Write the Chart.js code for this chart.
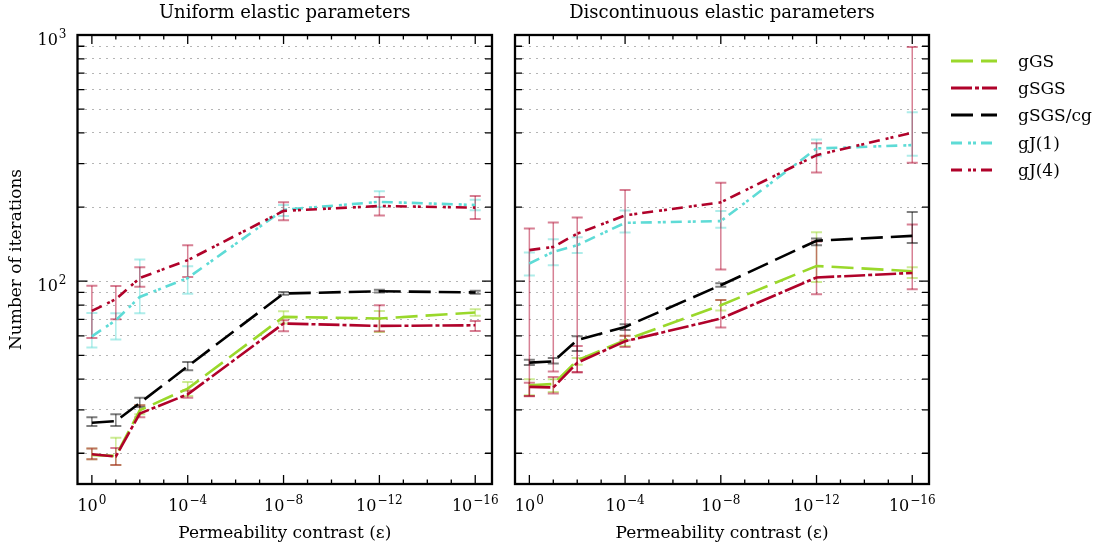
<!DOCTYPE html>
<html lang="en">
<head>
<meta charset="UTF-8" />
<title>Iterations vs permeability contrast</title>
<style>
    * {
        margin: 0;
        padding: 0;
    }

    body {
        width: 1096px;
        height: 550px;
        background: #fff;
        position: relative;
        overflow: hidden;
        font-family: "DejaVu Serif", serif;
    }

    .panel {
        position: absolute;
        top: 0;
    }

    #legend {
        position: absolute;
        left: 951px;
        top: 47px;
    }

    #legend .row {
        height: 27.3px;
        display: flex;
        align-items: center;
        font-size: 17px;
        color: #000;
    }

    #legend svg {
        width: 46px;
        height: 10px;
        margin-right: 21px;
    }
</style>
</head>

<body>
    <canvas id="leftChart" class="panel" style="left:0px" width="505" height="550"></canvas>
    <canvas id="rightChart" class="panel" style="left:505px" width="455" height="550"></canvas>
    <div id="legend"></div>

    <script src="https://cdn.jsdelivr.net/npm/chart.js@4.4.1/dist/chart.umd.min.js"></script>
    <script>
        // exponent k of epsilon = 10^-k
        const epsExp = [0, 1, 2, 4, 8, 12, 16];
        const xTickVals = [0, 1, 2, 3, 4, 5, 6, 7, 8, 9, 10, 11, 12, 13, 14, 15, 16];
        const xLabelVals = [0, 4, 8, 12, 16];
        const yTickVals = [20, 30, 40, 50, 60, 70, 80, 90, 100, 200, 300, 400, 500, 600, 700, 800, 900, 1000];
        const yLabelVals = [100, 1000];

        const seriesNames = ["gGS", "gSGS", "gSGS/cg", "gJ(1)", "gJ(4)"];

        // Uniform elastic parameters
        const uniGS = [19.7, 19.5, 29.9, 36.6, 71.6, 70.5, 74.6];
        const uniGSlo = [18.9, 17.9, 28.8, 34.2, 67.3, 62.2, 72.4];
        const uniGShi = [20.9, 23.1, 31.3, 38.9, 75.5, 75.7, 76.9];
        const uniSGS = [19.8, 19.4, 29.0, 34.7, 67.3, 65.8, 66.2];
        const uniSGSlo = [18.9, 17.9, 28.0, 33.6, 62.6, 62.6, 62.8];
        const uniSGShi = [20.9, 21.0, 31.3, 36.0, 69.4, 79.9, 68.9];
        const uniCG = [26.6, 27.0, 32.0, 45.1, 89.1, 91.0, 90.0];
        const uniCGlo = [25.8, 25.8, 30.8, 43.5, 88.0, 90.0, 89.0];
        const uniCGhi = [28.0, 28.8, 33.6, 47.0, 90.3, 92.2, 91.5];
        const uniJ1 = [59.7, 69.4, 86.3, 103, 195, 210, 204];
        const uniJ1lo = [53.8, 57.9, 74, 89, 184, 200, 194];
        const uniJ1hi = [74.3, 74.0, 122.5, 115, 204, 232, 214];
        const uniJ4 = [75.7, 84.5, 103, 121.7, 193, 202, 199];
        const uniJ4lo = [58.8, 70, 95, 104, 177, 185, 179];
        const uniJ4hi = [95.7, 95.6, 114, 140, 209, 220, 221.6];

        // Discontinuous elastic parameters
        const disGS = [37.8, 38.2, 47.7, 57.6, 79.9, 115.3, 109.8];
        const disGSlo = [34.4, 35.5, 45.8, 54.5, 76, 99.3, 103];
        const disGShi = [40, 40, 48.7, 60, 83.8, 158, 114];
        const disSGS = [37.2, 37.0, 46.6, 57, 70.5, 103.5, 108];
        const disSGSlo = [34.2, 35, 42.7, 54, 64.8, 88.5, 92.8];
        const disSGShi = [38.7, 40.8, 54.5, 60, 83.8, 145, 170];
        const disCG = [46.7, 47.2, 57.6, 65.2, 96.3, 146, 152.8];
        const disCGlo = [45.7, 46.3, 52.1, 63.3, 95, 140, 143];
        const disCGhi = [48, 48.7, 59.7, 66.8, 98, 149, 190.8];
        const disJ1 = [118, 131.6, 140, 172.6, 175.4, 346, 357];
        const disJ1lo = [105.5, 116, 130, 157.8, 165, 322, 323];
        const disJ1hi = [130.8, 148, 150.7, 193.6, 192.6, 376.6, 485];
        const disJ4 = [133.7, 137.8, 156, 185, 209, 325, 401];
        const disJ4lo = [34.1, 43, 42.7, 57.6, 111.6, 276.6, 303];
        const disJ4hi = [163.7, 173, 181.6, 234.5, 251, 363, 894];

        const colors = ["#9ad82b", "#b0022a", "#000000", "#5edbd6", "#b0022a"];
        const barColors = ["rgba(154,216,43,0.5)", "rgba(176,2,42,0.5)", "rgba(0,0,0,0.5)", "rgba(94,219,214,0.5)", "rgba(176,2,42,0.5)"];
        const dashes = [[22, 8], [21, 3, 4, 3], [22, 8], [11, 6, 3, 2, 3, 5], [11, 6, 3, 2, 3, 5]];

        const fontFam = '"DejaVu Serif", serif';

        // "10" with a raised exponent
        function drawPow(ctx, exp, x, baseY, align) {
            const base = "10";
            const ex = exp < 0 ? "\u2212" + (-exp) : String(exp);
            ctx.font = "16px " + fontFam;
            const w1 = ctx.measureText(base).width;
            ctx.font = "12px " + fontFam;
            const w2 = ctx.measureText(ex).width;
            const total = w1 + 1 + w2;
            let x0 = align === "right" ? x - total : x - total / 2;
            ctx.textAlign = "left";
            ctx.textBaseline = "alphabetic";
            ctx.font = "16px " + fontFam;
            ctx.fillText(base, x0, baseY);
            ctx.font = "12px " + fontFam;
            ctx.fillText(ex, x0 + w1 + 1, baseY - 7);
        }

        // error bars, drawn under the lines
        const errorBars = {
            id: "errorBars",
            beforeDatasetsDraw(chart) {
                const ctx = chart.ctx;
                const xs = chart.scales.x, ys = chart.scales.y;
                ctx.save();
                chart.data.datasets.forEach((ds, i) => {
                    ctx.strokeStyle = barColors[i];
                    for (let j = 0; j < epsExp.length; j++) {
                        const px = xs.getPixelForValue(epsExp[j]);
                        const y1 = ys.getPixelForValue(ds.errLo[j]);
                        const y2 = ys.getPixelForValue(ds.errHi[j]);
                        ctx.lineWidth = 1.5;
                        ctx.beginPath();
                        ctx.moveTo(px, y1);
                        ctx.lineTo(px, y2);
                        ctx.stroke();
                        ctx.lineWidth = 2;
                        ctx.beginPath();
                        ctx.moveTo(px - 5.5, y1);
                        ctx.lineTo(px + 5.5, y1);
                        ctx.moveTo(px - 5.5, y2);
                        ctx.lineTo(px + 5.5, y2);
                        ctx.stroke();
                    }
                });
                ctx.restore();
            }
        };

        // inward ticks, frame and power-of-ten labels
        const frameTicks = {
            id: "frameTicks",
            afterDraw(chart) {
                const ctx = chart.ctx;
                const a = chart.chartArea;
                const xs = chart.scales.x, ys = chart.scales.y;
                ctx.save();
                ctx.strokeStyle = "#000";
                ctx.lineWidth = 1.3;
                ctx.beginPath();
                xTickVals.forEach(v => {
                    const px = xs.getPixelForValue(v);
                    const len = v % 4 === 0 ? 9 : 4.5;
                    ctx.moveTo(px, a.bottom);
                    ctx.lineTo(px, a.bottom - len);
                    ctx.moveTo(px, a.top);
                    ctx.lineTo(px, a.top + len);
                });
                yTickVals.forEach(v => {
                    const py = ys.getPixelForValue(v);
                    const len = (v === 100 || v === 1000) ? 10 : 7;
                    ctx.moveTo(a.left, py);
                    ctx.lineTo(a.left + len, py);
                    ctx.moveTo(a.right, py);
                    ctx.lineTo(a.right - len, py);
                });
                ctx.stroke();
                ctx.lineWidth = 2.3;
                ctx.strokeRect(a.left, a.top, a.right - a.left, a.bottom - a.top);

                ctx.fillStyle = "#000";
                xLabelVals.forEach(v => {
                    drawPow(ctx, v === 0 ? 0 : -v, xs.getPixelForValue(v), a.bottom + 27, "center");
                });
                if (chart.options.showYLabels) {
                    yLabelVals.forEach(v => {
                        drawPow(ctx, Math.round(Math.log10(v)), a.left - 11, ys.getPixelForValue(v) + 9.5, "right");
                    });
                }
                ctx.restore();
            }
        };

        function makePanel(canvasId, title, vals, los, his, isLeft) {
            const datasets = vals.map((arr, i) => ({
                label: seriesNames[i],
                data: arr.map((v, j) => ({ x: epsExp[j], y: v })),
                errLo: los[i],
                errHi: his[i],
                borderColor: colors[i],
                borderWidth: 2.6,
                borderDash: dashes[i],
                borderCapStyle: "butt",
                pointRadius: 0,
                tension: 0,
                fill: false,
                order: -i
            }));

            const options = {
                responsive: false,
                animation: false,
                showYLabels: isLeft,
                layout: {
                    padding: { left: 0, right: isLeft ? 13 : 31, top: 0, bottom: 0 }
                },
                scales: {
                    x: {
                        type: "linear",
                        min: -0.6,
                        max: 16.7,
                        afterBuildTicks: scale => {
                            scale.ticks = xTickVals.map(v => ({ value: v }));
                        },
                        afterFit: scale => {
                            scale.height = 66;
                        },
                        grid: { display: false, drawTicks: false },
                        border: { display: false },
                        ticks: { display: false },
                        title: {
                            display: true,
                            text: "Permeability contrast (ε)",
                            color: "#000",
                            padding: { top: 0, bottom: 6 },
                            font: { family: fontFam, size: 17 }
                        }
                    },
                    y: {
                        type: "logarithmic",
                        min: 15,
                        max: 1000,
                        afterBuildTicks: scale => {
                            scale.ticks = yTickVals.map(v => ({ value: v }));
                        },
                        afterFit: scale => {
                            scale.width = isLeft ? 77.5 : 10;
                        },
                        grid: {
                            display: true,
                            drawTicks: false,
                            color: "#b5b5b5",
                            lineWidth: 1
                        },
                        border: { display: false, dash: [2, 5] },
                        ticks: { display: false },
                        title: {
                            display: isLeft,
                            text: "Number of iterations",
                            color: "#000",
                            padding: { top: 6, bottom: 0 },
                            font: { family: fontFam, size: 17 }
                        }
                    }
                },
                plugins: {
                    legend: { display: false },
                    tooltip: { enabled: false },
                    title: {
                        display: true,
                        fullSize: false,
                        text: title,
                        color: "#000",
                        padding: { top: 3, bottom: 10.4 },
                        font: { family: fontFam, size: 18, weight: "normal" }
                    }
                }
            };

            return new Chart(document.getElementById(canvasId), {
                type: "line",
                data: { datasets: datasets },
                options: options,
                plugins: [errorBars, frameTicks]
            });
        }

        makePanel("leftChart", "Uniform elastic parameters",
            [uniGS, uniSGS, uniCG, uniJ1, uniJ4],
            [uniGSlo, uniSGSlo, uniCGlo, uniJ1lo, uniJ4lo],
            [uniGShi, uniSGShi, uniCGhi, uniJ1hi, uniJ4hi], true);

        makePanel("rightChart", "Discontinuous elastic parameters",
            [disGS, disSGS, disCG, disJ1, disJ4],
            [disGSlo, disSGSlo, disCGlo, disJ1lo, disJ4lo],
            [disGShi, disSGShi, disCGhi, disJ1hi, disJ4hi], false);

        // legend
        const legend = document.getElementById("legend");
        seriesNames.forEach((name, i) => {
            const row = document.createElement("div");
            row.className = "row";
            row.innerHTML = '<svg viewBox="0 0 46 10"><line x1="0" y1="5" x2="46" y2="5" stroke="' + colors[i] +
                '" stroke-width="3" stroke-dasharray="' + dashes[i].join(" ") + '"/></svg><span>' + name + "</span>";
            legend.appendChild(row);
        });
    </script>
</body>

</html>
